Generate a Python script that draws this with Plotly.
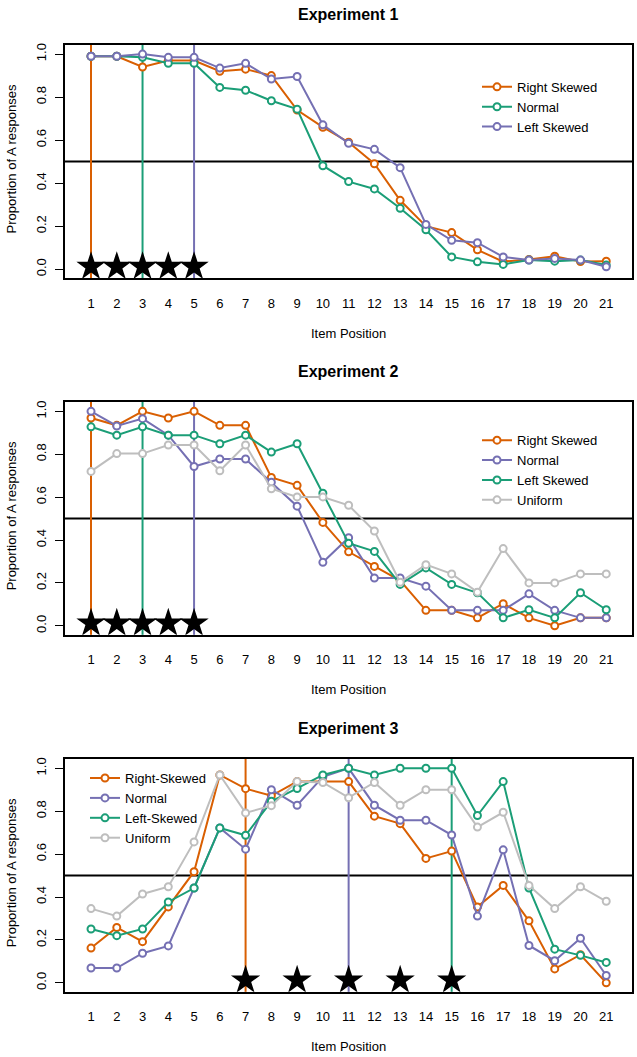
import plotly.graph_objects as go

W, H = 637, 1057

positions = list(range(1, 22))
tick_labels = [str(i) for i in positions]
y_ticks = [0.0, 0.2, 0.4, 0.6, 0.8, 1.0]

# Experiment 1
exp1_right = [0.99, 0.99, 0.94, 0.97, 0.97, 0.92, 0.93, 0.90, 0.74, 0.66, 0.59, 0.49, 0.32, 0.20, 0.17, 0.09, 0.035, 0.045, 0.06, 0.035, 0.037]
exp1_normal = [0.99, 0.99, 0.985, 0.957, 0.957, 0.845, 0.832, 0.783, 0.744, 0.481, 0.407, 0.373, 0.283, 0.183, 0.057, 0.034, 0.022, 0.042, 0.037, 0.042, 0.019]
exp1_left = [0.99, 0.99, 1.0, 0.985, 0.985, 0.935, 0.957, 0.884, 0.896, 0.671, 0.585, 0.557, 0.472, 0.208, 0.134, 0.123, 0.057, 0.042, 0.05, 0.042, 0.011]
exp1_targets = [1, 3, 5]
exp1_stars = [1, 2, 3, 4, 5]

# Experiment 2
exp2_right = [0.969, 0.935, 1.0, 0.969, 1.0, 0.935, 0.935, 0.692, 0.655, 0.482, 0.345, 0.277, 0.211, 0.072, 0.072, 0.037, 0.103, 0.037, 0.0, 0.037, 0.037]
exp2_normal = [1.0, 0.932, 0.966, 0.889, 0.743, 0.778, 0.778, 0.67, 0.558, 0.296, 0.411, 0.223, 0.223, 0.185, 0.072, 0.072, 0.072, 0.149, 0.072, 0.037, 0.037]
exp2_left = [0.928, 0.889, 0.928, 0.889, 0.889, 0.849, 0.889, 0.81, 0.849, 0.618, 0.385, 0.347, 0.193, 0.27, 0.193, 0.154, 0.037, 0.075, 0.037, 0.154, 0.075]
exp2_uniform = [0.72, 0.803, 0.803, 0.843, 0.843, 0.723, 0.843, 0.639, 0.601, 0.601, 0.562, 0.442, 0.203, 0.285, 0.242, 0.157, 0.36, 0.2, 0.2, 0.242, 0.242]
exp2_targets = [1, 3, 5]
exp2_stars = [1, 2, 3, 4, 5]

# Experiment 3
exp3_right = [0.162, 0.258, 0.192, 0.354, 0.518, 0.969, 0.905, 0.872, 0.938, 0.938, 0.938, 0.777, 0.742, 0.58, 0.614, 0.354, 0.454, 0.289, 0.065, 0.131, 0.0]
exp3_normal = [0.069, 0.069, 0.138, 0.172, 0.442, 0.722, 0.623, 0.9, 0.828, 0.96, 1.0, 0.828, 0.758, 0.758, 0.689, 0.311, 0.62, 0.174, 0.103, 0.208, 0.034]
exp3_left = [0.251, 0.22, 0.251, 0.377, 0.442, 0.722, 0.688, 0.846, 0.906, 0.969, 1.0, 0.969, 1.0, 1.0, 1.0, 0.78, 0.938, 0.442, 0.157, 0.128, 0.095]
exp3_uniform = [0.346, 0.311, 0.414, 0.448, 0.657, 0.969, 0.792, 0.826, 0.938, 0.934, 0.863, 0.934, 0.828, 0.9, 0.9, 0.726, 0.795, 0.454, 0.346, 0.448, 0.38]
exp3_targets = [7, 11, 15]
exp3_stars = [7, 9, 11, 13, 15]

star_level = 0.012
threshold = 0.5

ORANGE = "#D95F02"
GREEN = "#1B9E77"
PURPLE = "#7570B3"
GRAY = "#BEBEBE"
FONT = "Liberation Sans, Arial, sans-serif"


def px_x(p):
    return min(1.0, max(0.0, p / W))


def px_y(p):
    return min(1.0, max(0.0, 1 - p / H))


# panel geometry in window pixels (left, right, top, bottom)
panels = [
    (65, 632, 42.7, 276.7),
    (65, 632, 400.7, 634.0),
    (65, 632, 758.3, 991.7),
]

series = [
    [("Right Skewed", exp1_right, ORANGE), ("Normal", exp1_normal, GREEN), ("Left Skewed", exp1_left, PURPLE)],
    [("Right Skewed", exp2_right, ORANGE), ("Normal", exp2_normal, PURPLE), ("Left Skewed", exp2_left, GREEN), ("Uniform", exp2_uniform, GRAY)],
    [("Right-Skewed", exp3_right, ORANGE), ("Normal", exp3_normal, PURPLE), ("Left-Skewed", exp3_left, GREEN), ("Uniform", exp3_uniform, GRAY)],
]
targets = [
    [(exp1_targets[0], ORANGE), (exp1_targets[1], GREEN), (exp1_targets[2], PURPLE)],
    [(exp2_targets[0], ORANGE), (exp2_targets[1], GREEN), (exp2_targets[2], PURPLE)],
    [(exp3_targets[0], ORANGE), (exp3_targets[1], PURPLE), (exp3_targets[2], GREEN)],
]
stars = [exp1_stars, exp2_stars, exp3_stars]
titles = ["Experiment 1", "Experiment 2", "Experiment 3"]
legend_names = ["legend", "legend2", "legend3"]
legend_pos = [(477, 70), (477, 424), (85, 762.5)]

fig = go.Figure()
layout = dict(
    width=W, height=H,
    margin=dict(l=0, r=0, t=0, b=0),
    paper_bgcolor="white", plot_bgcolor="white",
    font=dict(family=FONT, size=13, color="black"),
    showlegend=True,
)
shapes = []
annotations = []

for i, (l, r, t, b) in enumerate(panels):
    sfx = "" if i == 0 else str(i + 1)
    xa, ya = "x" + sfx, "y" + sfx
    layout["xaxis" + sfx] = dict(
        domain=[px_x(l), px_x(r)], anchor=ya, range=[-0.01, 22.0],
        tickmode="array", tickvals=positions, ticktext=tick_labels,
        ticks="", showline=True, mirror=True, linecolor="black", linewidth=2,
        showgrid=False, zeroline=False, ticklabelstandoff=12,
        tickfont=dict(family=FONT, size=13, color="black"),
    )
    layout["yaxis" + sfx] = dict(
        domain=[px_y(b), px_y(t)], anchor=xa, range=[-0.042, 1.044],
        tickmode="array", tickvals=y_ticks, tickformat=".1f", tickangle=-90,
        ticks="outside", ticklen=8, tickwidth=1, tickcolor="black",
        showline=True, mirror=True, linecolor="black", linewidth=2,
        showgrid=False, zeroline=False, ticklabelstandoff=4,
        tickfont=dict(family=FONT, size=13, color="black"),
    )
    # threshold line
    shapes.append(dict(type="line", xref=xa + " domain", yref=ya, x0=0, x1=1,
                       y0=threshold, y1=threshold, line=dict(color="black", width=2), layer="below"))
    # target vertical lines
    for xv, col in targets[i]:
        shapes.append(dict(type="line", xref=xa, yref=ya + " domain", x0=xv, x1=xv,
                           y0=0, y1=1, line=dict(color=col, width=2), layer="below"))
    lg = legend_names[i]
    for name, vals, col in series[i]:
        fig.add_trace(go.Scatter(
            x=positions, y=vals, name=name, mode="lines+markers",
            line=dict(color=col, width=2),
            marker=dict(symbol="circle", size=7, color="white", line=dict(color=col, width=2)),
            xaxis=xa, yaxis=ya, legend=lg,
        ))
    fig.add_trace(go.Scatter(
        x=stars[i], y=[star_level] * len(stars[i]), mode="markers",
        marker=dict(symbol="star", size=22, color="black"),
        xaxis=xa, yaxis=ya, showlegend=False, hoverinfo="skip",
    ))
    lx, ly = legend_pos[i]
    layout[lg] = dict(x=px_x(lx), y=px_y(ly), xanchor="left", yanchor="top",
                      bgcolor="rgba(0,0,0,0)", borderwidth=0,
                      font=dict(family=FONT, size=13, color="black"))
    cx = (l + r) / 2
    # title
    annotations.append(dict(text="<b>" + titles[i] + "</b>", xref="paper", yref="paper",
                            x=px_x(cx), y=px_y(t - 30.5), xanchor="center", yanchor="middle",
                            showarrow=False, font=dict(family=FONT, size=16, color="black")))
    # x title
    annotations.append(dict(text="Item Position", xref="paper", yref="paper",
                            x=px_x(cx), y=px_y(b + 55), xanchor="center", yanchor="middle",
                            showarrow=False, font=dict(family=FONT, size=13, color="black")))
    # y title
    annotations.append(dict(text="Proportion of A responses", xref="paper", yref="paper",
                            x=px_x(11), y=px_y((t + b) / 2 - 2), xanchor="center", yanchor="middle",
                            textangle=-90, showarrow=False,
                            font=dict(family=FONT, size=13, color="black")))

layout["shapes"] = shapes
layout["annotations"] = annotations
fig.update_layout(**layout)
# remove the default page margin so the 637x1057 figure fills the window exactly
fig.write_html("out.html", config={"displayModeBar": False},
               post_script="document.body.style.margin='0px';")
